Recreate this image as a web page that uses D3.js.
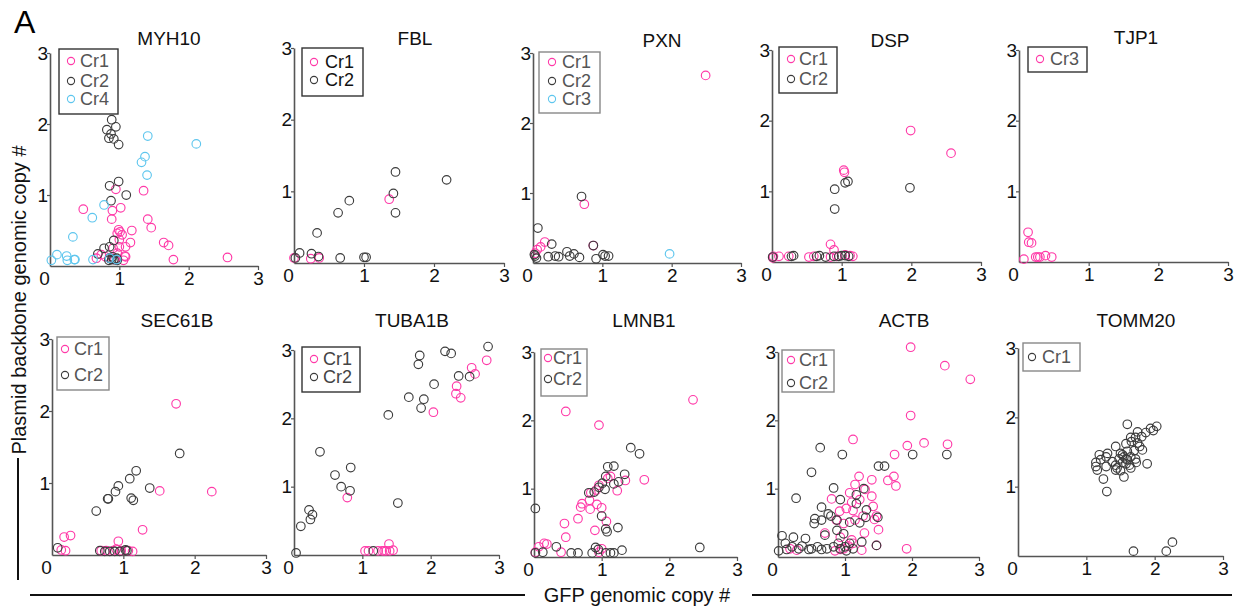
<!DOCTYPE html>
<html>
<head>
<meta charset="utf-8">
<script src="https://cdn.jsdelivr.net/npm/d3@7"></script>
<style>
  body { margin: 0; background: #fff; }
  text { font-family: "Liberation Sans", Arial, sans-serif; }
</style>
</head>
<body>
<svg id="chart" width="1239" height="611"></svg>
<script>
// values: [GFP copy #, plasmid backbone copy #]
const MYH10_CR1 = [[0.48,0.80],[0.95,1.08],[0.90,0.78],[0.89,0.66],[1.02,0.82],[0.99,0.51],[1.01,0.48],[0.97,0.46],[1.04,0.44],[1.18,0.50],[1.16,0.33],[1.09,0.27],[1.00,0.27],[0.97,0.18],[1.08,0.14],[1.09,0.13],[1.35,1.06],[1.41,0.66],[1.46,0.54],[1.64,0.33],[1.71,0.29],[1.78,0.09],[2.56,0.12],[0.67,0.11],[0.74,0.16],[0.80,0.13],[0.86,0.11],[0.93,0.09],[1.06,0.08],[0.91,0.25],[1.00,0.37]];
const MYH10_CR2 = [[0.89,2.06],[0.82,1.92],[0.95,1.96],[0.88,1.86],[0.85,1.80],[0.92,1.79],[0.99,1.71],[0.86,1.13],[0.99,1.19],[1.10,1.00],[0.88,0.92],[0.92,0.36],[0.86,0.27],[0.78,0.25],[0.69,0.17],[0.86,0.11],[0.89,0.09],[0.92,0.09],[0.96,0.11],[0.85,0.08],[0.90,0.13],[0.97,0.08]];
const MYH10_CR4 = [[1.41,1.83],[2.11,1.72],[1.37,1.54],[1.32,1.46],[1.40,1.28],[0.78,0.86],[0.61,0.68],[0.33,0.41],[0.10,0.16],[0.02,0.08],[0.24,0.14],[0.25,0.08],[0.36,0.09],[0.35,0.09],[0.86,0.11],[0.96,0.09],[0.62,0.09]];

const FBL_CR1 = [[1.36,0.89],[0.00,0.07],[0.24,0.06],[0.36,0.07]];
const FBL_CR2 = [[1.45,1.27],[2.18,1.16],[1.42,0.97],[0.79,0.87],[0.63,0.70],[1.45,0.70],[0.33,0.42],[0.08,0.14],[0.25,0.13],[0.35,0.09],[0.66,0.07],[1.00,0.08],[1.03,0.08],[0.02,0.07]];

const PXN_CR1 = [[2.49,2.68],[0.74,0.84],[0.87,0.25],[0.17,0.30],[0.11,0.23],[0.06,0.19],[0.03,0.14]];
const PXN_CR2 = [[0.70,0.95],[0.07,0.50],[0.87,0.25],[0.27,0.27],[0.49,0.16],[0.59,0.13],[0.32,0.10],[0.22,0.09],[0.37,0.09],[0.53,0.10],[0.67,0.08],[0.91,0.06],[1.01,0.12],[1.04,0.10],[1.09,0.10],[0.03,0.10],[0.05,0.07],[0.02,0.12]];
const PXN_CR3 = [[1.97,0.13]];

const DSP_CR1 = [[1.99,1.86],[2.57,1.54],[1.03,1.30],[1.04,1.27],[0.84,0.25],[0.89,0.17],[0.02,0.08],[0.01,0.06],[0.10,0.08],[0.24,0.08],[0.53,0.07],[0.60,0.08],[0.84,0.07],[0.93,0.08],[1.05,0.10],[1.12,0.09],[1.16,0.08]];
const DSP_CR2 = [[1.98,1.05],[0.90,1.03],[1.05,1.12],[1.09,1.14],[0.90,0.75],[0.28,0.08],[0.31,0.09],[0.64,0.08],[0.68,0.09],[0.77,0.07],[0.89,0.08],[0.96,0.08],[1.00,0.09],[1.05,0.09],[1.10,0.08],[0.01,0.07]];

const TJP1_CR3 = [[0.13,0.42],[0.14,0.28],[0.18,0.27],[0.07,0.04],[0.24,0.07],[0.27,0.07],[0.30,0.07],[0.38,0.09],[0.47,0.07]];

const SEC61B_CR1 = [[1.74,2.10],[2.24,0.88],[1.51,0.89],[1.27,0.35],[0.26,0.27],[0.17,0.25],[0.93,0.19],[0.19,0.06],[0.13,0.07],[1.13,0.05],[0.69,0.06],[0.76,0.06],[0.86,0.06],[0.90,0.08],[0.97,0.06],[1.07,0.06]];
const SEC61B_CR2 = [[1.79,1.41],[1.18,1.17],[1.09,1.06],[0.93,0.96],[0.89,0.88],[0.78,0.78],[0.79,0.78],[1.11,0.79],[1.14,0.76],[1.37,0.93],[0.62,0.61],[0.08,0.10],[0.67,0.06],[0.74,0.05],[0.81,0.05],[0.88,0.05],[0.95,0.05],[1.03,0.07],[1.05,0.06]];

const TUBA1B_CR1 = [[2.82,2.85],[2.60,2.74],[2.65,2.65],[2.38,2.47],[2.37,2.36],[2.44,2.30],[2.04,2.09],[0.78,0.84],[1.39,0.16],[1.04,0.06],[1.09,0.06],[1.23,0.06],[1.29,0.06],[1.35,0.06],[1.40,0.06],[1.45,0.07],[1.32,0.06]];
const TUBA1B_CR2 = [[2.84,3.05],[2.21,2.98],[2.30,2.95],[1.84,2.92],[1.82,2.79],[2.41,2.62],[2.57,2.61],[2.05,2.50],[1.68,2.31],[1.90,2.28],[1.86,2.15],[1.38,2.05],[0.38,1.51],[0.83,1.28],[0.60,1.17],[0.69,1.00],[0.82,0.94],[1.52,0.76],[0.22,0.66],[0.27,0.59],[0.24,0.52],[0.10,0.42],[0.03,0.03],[1.16,0.06]];

const LMNB1_CR1 = [[2.35,2.30],[0.47,2.13],[0.96,1.93],[1.63,1.13],[1.13,1.18],[1.09,1.15],[1.35,1.12],[1.23,0.97],[0.96,1.05],[0.92,0.98],[0.84,0.94],[0.71,0.78],[0.69,0.73],[0.82,0.83],[0.93,0.77],[1.00,0.72],[0.83,0.70],[0.65,0.56],[0.45,0.49],[1.07,0.52],[0.90,0.39],[0.47,0.29],[0.15,0.20],[0.19,0.19],[0.07,0.15],[0.02,0.07],[1.00,0.12],[0.40,0.07],[0.96,0.07]];
const LMNB1_CR2 = [[1.43,1.60],[1.56,1.51],[1.09,1.32],[1.18,1.33],[1.06,1.18],[1.34,1.21],[1.18,1.07],[1.25,1.10],[1.01,1.08],[1.05,0.99],[0.81,0.94],[0.96,1.02],[0.89,0.95],[1.00,0.60],[1.06,0.41],[1.08,0.37],[1.24,0.43],[0.02,0.71],[2.45,0.14],[0.33,0.15],[0.55,0.06],[0.65,0.06],[0.86,0.06],[0.91,0.14],[0.95,0.11],[1.06,0.06],[1.13,0.06],[1.18,0.06],[1.30,0.10],[0.02,0.06],[0.13,0.07]];

const ACTB_CR1 = [[1.98,3.07],[2.49,2.80],[2.87,2.60],[1.98,2.07],[1.12,1.72],[2.18,1.67],[2.53,1.65],[1.93,1.63],[1.74,1.50],[1.73,1.18],[1.64,1.12],[1.76,1.04],[1.21,1.18],[1.40,1.13],[1.15,1.06],[1.30,0.99],[1.07,0.94],[1.22,0.84],[1.40,0.89],[0.80,0.85],[1.10,0.80],[1.42,0.74],[1.02,0.71],[0.92,0.67],[1.12,0.68],[1.27,0.60],[1.47,0.60],[1.44,0.55],[0.87,0.54],[0.98,0.49],[1.15,0.54],[1.50,0.40],[0.70,0.35],[1.29,0.35],[0.93,0.29],[1.10,0.25],[1.92,0.12],[1.25,0.10],[1.47,0.17],[0.18,0.12],[0.28,0.10],[0.85,0.09],[0.98,0.12],[1.05,0.16],[1.12,0.20],[0.93,0.11]];
const ACTB_CR2 = [[0.63,1.60],[0.96,1.50],[2.01,1.50],[2.52,1.50],[1.50,1.33],[1.59,1.33],[0.50,1.24],[0.83,1.01],[0.27,0.86],[0.93,0.84],[1.28,1.00],[1.17,0.91],[1.17,0.78],[0.65,0.73],[0.75,0.63],[0.55,0.56],[0.65,0.54],[0.79,0.60],[0.88,0.54],[0.54,0.49],[1.07,0.51],[1.22,0.50],[1.32,0.69],[1.31,0.58],[1.49,0.58],[0.88,0.39],[0.70,0.32],[0.98,0.34],[1.47,0.17],[0.06,0.31],[0.23,0.29],[0.41,0.27],[0.11,0.20],[0.36,0.16],[0.21,0.15],[0.01,0.09],[0.13,0.11],[0.31,0.12],[0.50,0.12],[0.59,0.15],[0.73,0.12],[0.93,0.12],[1.00,0.15],[1.02,0.09],[1.12,0.12],[1.25,0.22],[0.90,0.20],[1.07,0.20],[0.83,0.15],[0.46,0.11],[0.65,0.11]];

const TOMM20_CR1 = [[1.60,1.90],[2.03,1.87],[1.94,1.84],[1.98,1.81],[1.87,1.78],[1.75,1.79],[1.72,1.71],[1.81,1.72],[1.65,1.71],[1.66,1.65],[1.58,1.62],[1.75,1.63],[1.78,1.58],[1.43,1.58],[1.82,1.53],[1.70,1.52],[1.60,1.51],[1.50,1.48],[1.31,1.48],[1.19,1.46],[1.29,1.43],[1.55,1.43],[1.65,1.43],[1.48,1.40],[1.58,1.40],[1.72,1.40],[1.21,1.39],[1.38,1.36],[1.53,1.35],[1.73,1.35],[1.14,1.35],[1.58,1.33],[1.89,1.33],[1.43,1.31],[1.29,1.29],[1.14,1.29],[1.45,1.27],[1.65,1.27],[1.16,1.24],[1.43,1.24],[1.50,1.23],[1.63,1.31],[1.55,1.14],[1.25,1.11],[1.30,0.93],[1.69,0.07],[2.17,0.07],[2.26,0.20],[1.53,1.46],[1.60,1.39]];

const GENES = ["MYH10", "FBL", "PXN", "DSP", "TJP1", "SEC61B", "TUBA1B", "LMNB1", "ACTB", "TOMM20"];
const X_TICKS = [0, 1, 2, 3];
const Y_TICKS = [1, 2, 3];

const PINK = "#ff3aa8";
const GREY = "#3c3c3c";
const CYAN = "#5ec6ee";

// series per panel, in legend order
const PANEL_SERIES = {
  MYH10: [["Cr1", MYH10_CR1, PINK], ["Cr2", MYH10_CR2, GREY], ["Cr4", MYH10_CR4, CYAN]],
  FBL: [["Cr1", FBL_CR1, PINK], ["Cr2", FBL_CR2, GREY]],
  PXN: [["Cr1", PXN_CR1, PINK], ["Cr2", PXN_CR2, GREY], ["Cr3", PXN_CR3, CYAN]],
  DSP: [["Cr1", DSP_CR1, PINK], ["Cr2", DSP_CR2, GREY]],
  TJP1: [["Cr3", TJP1_CR3, PINK]],
  SEC61B: [["Cr1", SEC61B_CR1, PINK], ["Cr2", SEC61B_CR2, GREY]],
  TUBA1B: [["Cr1", TUBA1B_CR1, PINK], ["Cr2", TUBA1B_CR2, GREY]],
  LMNB1: [["Cr1", LMNB1_CR1, PINK], ["Cr2", LMNB1_CR2, GREY]],
  ACTB: [["Cr1", ACTB_CR1, PINK], ["Cr2", ACTB_CR2, GREY]],
  TOMM20: [["Cr1", TOMM20_CR1, GREY]],
};

// panel geometry: axis origin, axis extents, title position, legend box
const LAYOUT = {
  MYH10:  { left: 50,   right: 258,  top: 53,  bottom: 266, titleX: 169,  titleY: 45,  box: [59, 49, 59, 65],   rows: [61, 81, 99],  mx: 71,   tx: 80,   boxStroke: "#333", text: "#555" },
  FBL:    { left: 294,  right: 504,  top: 48,  bottom: 263, titleX: 415,  titleY: 45,  box: [302, 48, 61, 48],  rows: [62, 80],      mx: 314,  tx: 325,  boxStroke: "#333", text: "#111" },
  PXN:    { left: 533,  right: 741,  top: 53,  bottom: 263, titleX: 662,  titleY: 47,  box: [539, 52, 61, 61],  rows: [62, 81, 99],  mx: 552,  tx: 562,  boxStroke: "#888", text: "#555" },
  DSP:    { left: 772,  right: 981,  top: 50,  bottom: 262, titleX: 890,  titleY: 47,  box: [779, 47, 58, 46],  rows: [59, 79],      mx: 791,  tx: 799,  boxStroke: "#333", text: "#555" },
  TJP1:   { left: 1019, right: 1228, top: 50,  bottom: 262, titleX: 1136, titleY: 44,  box: [1028, 47, 59, 25], rows: [59],          mx: 1040, tx: 1050, boxStroke: "#333", text: "#555" },
  SEC61B: { left: 52,   right: 266,  top: 339, bottom: 555, titleX: 177,  titleY: 327, box: [57, 337, 52, 53],  rows: [349, 375],    mx: 65,   tx: 74,   boxStroke: "#888", text: "#555" },
  TUBA1B: { left: 294,  right: 499,  top: 350, bottom: 555, titleX: 412,  titleY: 327, box: [302, 347, 58, 45], rows: [359, 377],    mx: 314,  tx: 323,  boxStroke: "#333", text: "#444" },
  LMNB1:  { left: 534,  right: 737,  top: 352, bottom: 557, titleX: 644,  titleY: 327, box: [541, 349, 46, 47], rows: [358, 379],    mx: 548,  tx: 553,  boxStroke: "#888", text: "#555" },
  ACTB:   { left: 778,  right: 979,  top: 352, bottom: 557, titleX: 904,  titleY: 327, box: [782, 350, 52, 42], rows: [360, 383],    mx: 791,  tx: 799,  boxStroke: "#888", text: "#555" },
  TOMM20: { left: 1018, right: 1223, top: 348, bottom: 556, titleX: 1136, titleY: 327, box: [1023, 343, 57, 28],rows: [357],         mx: 1032, tx: 1042, boxStroke: "#888", text: "#555" },
};

const svg = d3.select("#chart");

svg.append("text")
  .attr("x", 14).attr("y", 33)
  .attr("font-size", 32)
  .attr("fill", "#000")
  .text("A");

GENES.forEach((gene) => {
  const L = LAYOUT[gene];
  const x = d3.scaleLinear().domain([0, 3]).range([L.left, L.right]);
  const y = d3.scaleLinear().domain([0, 3]).range([L.bottom, L.top]);
  const g = svg.append("g");

  g.append("text")
    .attr("x", L.titleX).attr("y", L.titleY)
    .attr("text-anchor", "middle")
    .attr("font-size", 19)
    .attr("fill", "#111")
    .text(gene);

  const xAxis = g.append("g")
    .attr("transform", `translate(0,${L.bottom})`)
    .call(d3.axisBottom(x).tickValues(X_TICKS).tickFormat(d3.format("d")).tickSize(4).tickSizeOuter(0));
  const yAxis = g.append("g")
    .attr("transform", `translate(${L.left},0)`)
    .call(d3.axisLeft(y).tickValues(Y_TICKS).tickFormat(d3.format("d")).tickSize(3).tickSizeOuter(0));

  [xAxis, yAxis].forEach((ax) => {
    ax.select(".domain").attr("stroke", "#555").attr("stroke-width", 1.6);
    ax.selectAll(".tick line").attr("stroke", "#555").attr("stroke-width", 1.2);
    ax.selectAll(".tick text")
      .attr("font-size", 19)
      .attr("font-family", "Liberation Sans, Arial, sans-serif")
      .attr("fill", "#111");
  });
  xAxis.selectAll(".tick text").attr("dy", "0.8em").attr("y", 4);
  xAxis.selectAll(".tick").filter((d) => d === 0).select("line").remove();
  xAxis.selectAll(".tick").filter((d) => d === 0).select("text").attr("x", -6);
  yAxis.selectAll(".tick text").attr("x", -2);

  const series = PANEL_SERIES[gene];
  series.forEach(([name, pts, color]) => {
    g.append("g")
      .selectAll("circle")
      .data(pts)
      .join("circle")
      .attr("cx", (d) => x(d[0]))
      .attr("cy", (d) => y(d[1]))
      .attr("r", 4.3)
      .attr("fill", "none")
      .attr("stroke", color)
      .attr("stroke-width", 1.15);
  });

  const [bx, by, bw, bh] = L.box;
  g.append("rect")
    .attr("x", bx).attr("y", by)
    .attr("width", bw).attr("height", bh)
    .attr("fill", "#fff")
    .attr("stroke", L.boxStroke)
    .attr("stroke-width", 1.4);

  series.forEach(([name, , color], i) => {
    g.append("circle")
      .attr("cx", L.mx).attr("cy", L.rows[i])
      .attr("r", 3.6)
      .attr("fill", "none")
      .attr("stroke", color)
      .attr("stroke-width", 1.1);
    g.append("text")
      .attr("x", L.tx).attr("y", L.rows[i])
      .attr("dy", "0.35em")
      .attr("font-size", 18)
      .attr("fill", L.text)
      .text(name);
  });
});

// shared axis labels
svg.append("text")
  .attr("transform", "translate(26,300) rotate(-90)")
  .attr("text-anchor", "middle")
  .attr("font-size", 20)
  .attr("fill", "#111")
  .text("Plasmid backbone genomic copy #");
svg.append("line")
  .attr("x1", 18).attr("x2", 18).attr("y1", 458).attr("y2", 580)
  .attr("stroke", "#111").attr("stroke-width", 2);

svg.append("text")
  .attr("x", 637).attr("y", 602)
  .attr("text-anchor", "middle")
  .attr("font-size", 20)
  .attr("fill", "#111")
  .text("GFP genomic copy #");
svg.append("line")
  .attr("x1", 30).attr("x2", 525).attr("y1", 595).attr("y2", 595)
  .attr("stroke", "#111").attr("stroke-width", 2);
svg.append("line")
  .attr("x1", 752).attr("x2", 1232).attr("y1", 595).attr("y2", 595)
  .attr("stroke", "#111").attr("stroke-width", 2);
</script>
</body>
</html>
